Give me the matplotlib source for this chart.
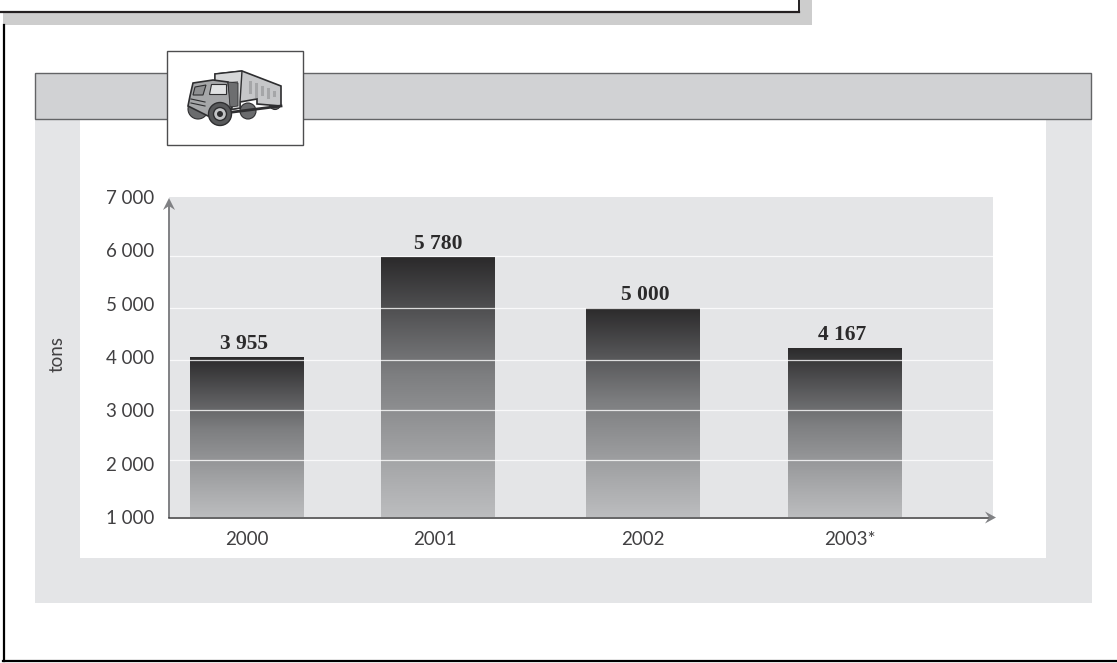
import numpy as np
import matplotlib
matplotlib.use("Agg")
import matplotlib.pyplot as plt
from matplotlib.colors import LinearSegmentedColormap
from matplotlib.patches import Rectangle, Polygon, Circle

years = ["2000", "2001", "2002", "2003*"]
printed_tons = ["3 955", "5 780", "5 000", "4 167"]
# the bars in the picture don't follow the printed numbers, these are read off the axis
drawn_tons = [4000, 5875, 4925, 4170]
tick_values = [1000, 2000, 3000, 4000, 5000, 6000, 7000]
tick_labels = ["1 000", "2 000", "3 000", "4 000", "5 000", "6 000", "7 000"]
# gridlines are not quite where the tick labels are either
grid_values = [2060, 3005, 3945, 4910, 5890]

W, H = 1117, 663
PANEL = "#e4e5e7"
BAND = "#d1d2d4"
SHADOW = "#cdcdcd"
TEXT = "#414042"
AXIS = "#808184"


def rect(ax, x0, y0, x1, y1, color, edge="none", lw=0, z=1):
    ax.add_patch(Rectangle((x0, y0), x1 - x0, y1 - y0, facecolor=color, edgecolor=edge, linewidth=lw, zorder=z))


def draw_page(bg):
    # clipped box at the top of the page
    rect(bg, 3, 13, 812, 25, SHADOW)
    rect(bg, 800, 0, 812, 25, SHADOW)
    bg.plot([0, 799], [11.5, 11.5], color="#231f20", lw=1.6, zorder=2)
    bg.plot([798.5, 798.5], [0, 12], color="#231f20", lw=1.4, zorder=2)
    for x in [38, 431]:
        bg.text(x, -3.5, "g", ha="center", va="baseline", fontsize=15, family="Lato", color="#231f20", weight="bold")

    # outer frame
    bg.plot([4, 4], [25, 661], color="black", lw=1.6, zorder=2)
    bg.plot([3.4, W], [661, 661], color="black", lw=1.6, zorder=2)

    # grey panel and header band
    rect(bg, 35, 119, 1092, 603, PANEL)
    rect(bg, 80, 119, 1046, 558, "white", z=2)
    rect(bg, 35, 73, 1090.5, 118.5, BAND, edge="#636466", lw=1, z=3)
    rect(bg, 167, 50.5, 303, 144.5, "white", edge="#4d4d4f", lw=1, z=4)


def draw_truck(bg):
    dark = "#2e2e30"
    # wheels behind, the box hides their tops
    for cx, cy, r in [(198, 109, 10), (248, 111, 8), (275, 104, 5.5)]:
        bg.add_patch(Circle((cx, cy), r, facecolor="#6a6b6d", edgecolor=dark, lw=0.8, zorder=5))
    # cargo box
    bg.add_patch(Polygon([(215, 74), (242, 71), (281, 86), (281, 106), (257, 104), (257, 99), (240, 102), (240, 108), (215, 112)],
                         facecolor="#c6c7c9", edgecolor=dark, lw=1.2, zorder=6))
    bg.add_patch(Polygon([(215, 74), (242, 71), (240, 102), (240, 108), (215, 112)], facecolor="#d6d7d8", edgecolor=dark, lw=1, zorder=6))
    bg.add_patch(Polygon([(229, 82), (238, 81), (238, 100), (229, 103)], facecolor="#808183", edgecolor="none", zorder=6))
    for x, bot in [(250, 92), (256, 96), (262, 94), (268, 97), (274, 95)]:
        bg.plot([x, x], [80 + (x - 245) * 0.4, bot], color="#98999b", lw=2.2, alpha=0.7, zorder=6)
    # chassis
    bg.plot([225, 281], [113, 106], color=dark, lw=2, zorder=6)
    # cab
    bg.add_patch(Polygon([(193, 83), (213, 80), (228, 82), (232, 108), (208, 116), (188, 106), (190, 96)],
                         facecolor="#a6a7a9", edgecolor=dark, lw=1.2, zorder=7))
    bg.add_patch(Polygon([(195, 87), (206, 85), (203, 95), (193, 95)], facecolor="#8e8f91", edgecolor=dark, lw=0.8, zorder=8))
    bg.add_patch(Polygon([(211, 84), (226, 84), (226, 94), (209, 94)], facecolor="#e1e2e3", edgecolor=dark, lw=0.8, zorder=8))
    bg.add_patch(Polygon([(228, 82), (238, 83), (238, 106), (230, 107)], facecolor="#6d6e70", edgecolor=dark, lw=0.6, zorder=7))
    for y in [99, 103]:
        bg.plot([191, 205], [y, y + 3], color=dark, lw=0.8, zorder=8)
    # front wheel
    bg.add_patch(Circle((220, 114), 11.5, facecolor="#58595b", edgecolor=dark, lw=1, zorder=9))
    bg.add_patch(Circle((220, 114), 6.5, facecolor="#c3c4c6", edgecolor=dark, lw=1, zorder=9))
    bg.add_patch(Circle((220, 114), 3, facecolor=dark, edgecolor="none", zorder=9))


def draw_axis_arrows(bg):
    bg.plot([169, 169], [517, 205], color=AXIS, lw=1.4, zorder=8)
    bg.plot([169, 990], [517.5, 517.5], color="#3a3a3c", lw=1.1, zorder=8)
    bg.add_patch(Polygon([(169, 198), (175, 210), (169, 206), (163, 210)], facecolor=AXIS, edgecolor="none", zorder=9))
    bg.add_patch(Polygon([(996, 517.5), (985, 511.5), (989, 517.5), (985, 523.5)], facecolor=AXIS, edgecolor="none", zorder=9))


def draw_chart(fig):
    ax = fig.add_axes([169 / W, 1 - 517 / H, 824 / W, 320 / H], zorder=2)
    ax.set_facecolor(PANEL)
    for s in ax.spines.values():
        s.set_visible(False)

    shade = LinearSegmentedColormap.from_list("bar_shade", [(0, "#2b2a2b"), (0.2, "#505052"), (0.45, "#7d7e80"), (0.75, "#a0a1a3"), (1, "#bcbdbf")])
    grad = np.linspace(0, 1, 256).reshape(-1, 1)

    # slots are a little uneven in the original
    centres = np.arange(len(years)) + np.array([0, -0.042, -0.013, 0])
    bars = ax.bar(centres, np.array(drawn_tons) - 1000, bottom=1000, width=0.568, color="none", linewidth=0, zorder=2)
    for bar in bars:
        x0 = bar.get_x()
        top = bar.get_y() + bar.get_height()
        im = ax.imshow(grad, cmap=shade, extent=(x0, x0 + bar.get_width(), 1000, top), aspect="auto", vmin=0, vmax=1, zorder=2)
        im.set_clip_path(bar)

    for v in grid_values:
        ax.axhline(v, color="white", lw=0.9, alpha=0.8, zorder=3)

    label_nudge = [-0.015, 0, 0.01, -0.015]
    for c, n, top, txt in zip(centres, label_nudge, drawn_tons, printed_tons):
        ax.text(c + n, top + 55, txt, ha="center", va="bottom", fontsize=15.5, weight="bold", family="Liberation Serif", color="#2b2a2b", zorder=4)

    ax.set_xlim(-0.391, 3.742)
    ax.set_ylim(1000, 7000)
    ax.set_yticks(tick_values, tick_labels, family="Lato", fontsize=13.5, color=TEXT)
    ax.set_xticks(centres + np.array([0, -0.015, 0, 0.025]), years, family="Lato", fontsize=13.5, color=TEXT)
    ax.tick_params(axis="y", length=0, pad=10.5)
    ax.tick_params(axis="x", length=0, pad=10)
    return ax


if __name__ == "__main__":
    fig = plt.figure(figsize=(W / 100, H / 100), dpi=100)
    fig.patch.set_facecolor("white")

    bg = fig.add_axes([0, 0, 1, 1], zorder=1)
    bg.set_xlim(0, W)
    bg.set_ylim(H, 0)
    bg.axis("off")
    draw_page(bg)
    draw_truck(bg)

    draw_chart(fig)

    # arrows have to sit on top of the plot area
    top = fig.add_axes([0, 0, 1, 1], zorder=3)
    top.set_xlim(0, W)
    top.set_ylim(H, 0)
    top.axis("off")
    draw_axis_arrows(top)
    top.text(57, 354, "tons", rotation=90, ha="center", va="center", family="Lato", fontsize=13.5, color=TEXT)

    fig.savefig("out.png", dpi=100)
